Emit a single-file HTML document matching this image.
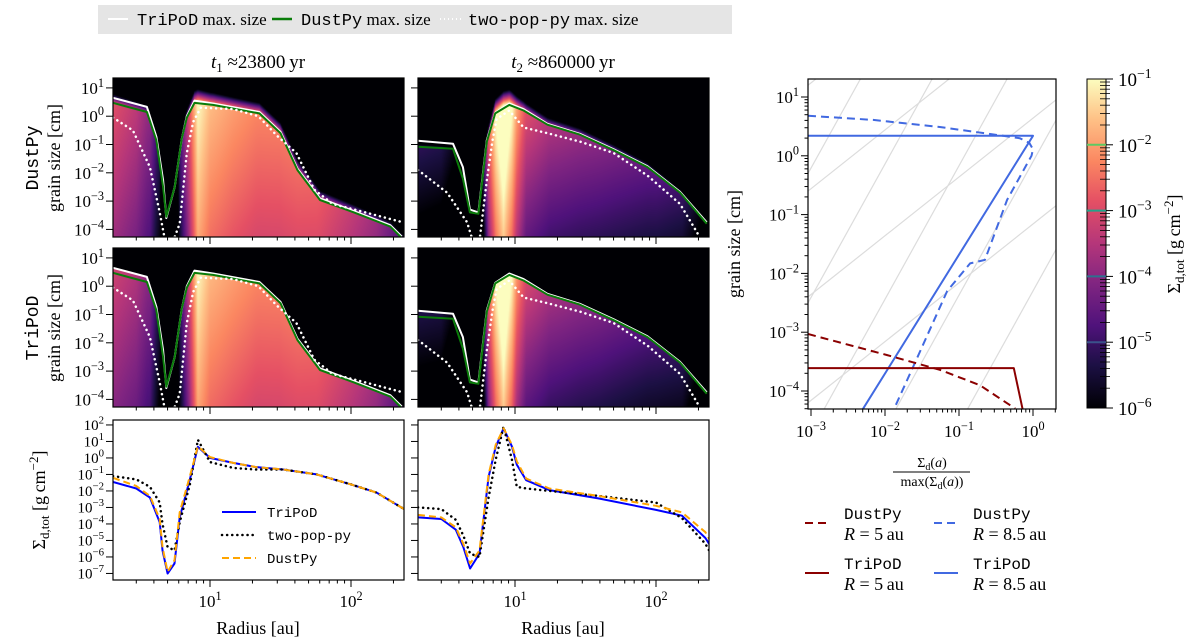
<!DOCTYPE html>
<html><head><meta charset="utf-8">
<style>
html,body{margin:0;padding:0;background:#fff;width:1200px;height:642px;overflow:hidden;}
#wrap{position:relative;width:1200px;height:642px;overflow:hidden;}
canvas{position:absolute;display:block;}
svg{position:absolute;left:0;top:0;display:block;overflow:hidden;}
</style></head>
<body>
<div id="wrap">
<canvas id="h11" width="291" height="159" style="left:113px;top:78px"></canvas>
<canvas id="h12" width="291" height="159" style="left:418px;top:78px"></canvas>
<canvas id="h21" width="291" height="159" style="left:113px;top:248px"></canvas>
<canvas id="h22" width="291" height="159" style="left:418px;top:248px"></canvas>
<svg id="svg" width="1200" height="642" xmlns="http://www.w3.org/2000/svg"></svg>
</div>
<script>
// ---------- data: bottom panels (log10 surface density) ----------
const r1 = [2.05,3,3.75,4.4,4.6,5.0,5.6,6.1,7.2,8.2,10,14.6,21,33,57,100,152,238];
const sigTriPoD1 = [-1.45,-1.85,-2.4,-3.9,-5.6,-7,-6.4,-3.6,-1.3,0.67,0,-0.3,-0.55,-0.7,-1.0,-1.6,-2.1,-3.1];
const sigDustPy1 = [-1.2,-1.7,-2.3,-3.7,-5.4,-6.9,-6.2,-3.3,-1.1,0.7,0.05,-0.3,-0.55,-0.7,-1.0,-1.6,-2.1,-3.1];
const sigTwoPop1 = [-1.1,-1.3,-1.75,-2.7,-4.0,-5.4,-5.6,-3.9,-1.6,1.1,-0.25,-0.6,-0.7,-0.7,-1.0,-1.6,-2.1,-3.1];
const r2 = [2.05,3.0,3.8,4.3,4.8,5.6,6.5,7.3,8.3,9.5,10.3,12,17.5,39,100,153,224,238];
const sigTriPoD2 = [-3.6,-3.7,-4.35,-5.4,-6.7,-5.8,-1.15,0.67,1.8,0.7,-0.4,-1.35,-1.95,-2.45,-3.15,-3.5,-4.85,-5.2];
const sigDustPy2 = [-3.45,-3.6,-4.2,-5.2,-6.4,-5.6,-1.0,0.8,1.8,0.8,-0.2,-1.25,-1.85,-2.3,-2.9,-3.3,-4.5,-4.9];
const sigTwoPop2 = [-3.0,-3.1,-3.75,-4.7,-5.8,-6.0,-2.4,-0.1,1.9,-0.1,-1.75,-1.85,-2.0,-2.3,-2.7,-3.65,-5.2,-5.6];
// ---------- data: max grain size curves (log10 cm) ----------
const rA1 = [2.05,3.57,4.17,4.65,4.9,5.62,6.31,6.84,7.76,10.5,22.4,31.6,41.7,60.3,105,190,229];
const amaxTriPoD1 = [0.65,0.33,-0.73,-2.26,-3.6,-2.5,-0.8,0.0,0.55,0.45,0.15,-0.55,-1.85,-2.9,-3.35,-3.85,-4.25];
const amaxDustPy1 = [0.47,0.15,-0.86,-2.5,-3.55,-2.5,-0.8,-0.05,0.47,0.4,0.1,-0.6,-1.9,-2.96,-3.4,-3.9,-4.3];
const rP1 = [2.05,2.84,3.75,4.4,4.8,5.3,6.1,6.85,7.6,8.6,14.6,22,30,41,55,74,126,233];
const amaxTwoPop1 = [-0.05,-0.5,-1.8,-3.4,-4.4,-4.6,-3.8,-1.3,-0.2,0.3,0.25,0.0,-0.7,-1.3,-2.6,-3.1,-3.4,-3.75];
const rA2 = [2.05,3.63,4.27,4.79,5.5,6.31,7.24,9.12,11.5,17,28.8,50.1,87,148,229];
const amaxTriPoD2 = [-0.87,-0.97,-1.8,-3.3,-3.4,-0.85,0.12,0.45,0.25,-0.27,-0.62,-1.17,-1.77,-2.67,-3.75];
const amaxDustPy2 = [-1.08,-1.15,-2.2,-3.4,-3.45,-0.9,0.1,0.4,0.2,-0.3,-0.65,-1.2,-1.8,-2.7,-3.8];
const rP2 = [2.05,3.3,4.57,4.95,5.6,6.3,6.9,7.4,9.1,11.5,17,29,50,87,148,195,220];
const amaxTwoPop2 = [-1.9,-2.7,-3.75,-4.3,-4.4,-2.3,-0.9,-0.1,0.2,-0.4,-0.6,-0.9,-1.3,-2.1,-3.1,-4.1,-4.6];
// ---------- data: right panel size distributions (log f, log a) ----------
const tri85F = [-3.04,0,-2.3];
const tri85A = [0.34,0.34,-4.31];
const dust85F = [-3.04,-2.16,-1.26,-0.58,-0.18,-0.05,0,-0.02,-0.35,-0.65,-0.85,-1.16,-1.62,-1.88];
const dust85A = [0.68,0.61,0.49,0.37,0.3,0.22,0.11,0.0,-0.75,-1.77,-1.83,-2.3,-3.59,-4.31];
const tri5F = [-3.04,-0.26,-0.14];
const tri5A = [-3.61,-3.61,-4.31];
const dust5F = [-3.04,-1.97,-1.26,-0.72,-0.24];
const dust5A = [-3.03,-3.39,-3.64,-3.9,-4.3];
const cbTicks = [-1,-2,-3,-4,-5,-6];
const contourLevels = [-2,-3,-4,-5];
const contourColors = ['#5ec962','#21a38a','#2c728e','#3b528b'];

// ---------- helpers ----------
const NS='http://www.w3.org/2000/svg';
const svg=document.getElementById('svg');
function el(tag,attrs,parent){const e=document.createElementNS(NS,tag);for(const k in attrs)e.setAttribute(k,attrs[k]);(parent||svg).appendChild(e);return e;}
const L10=Math.log10;
function interp(xs,ys,x){if(x<=xs[0])return ys[0];for(let i=1;i<xs.length;i++){if(x<=xs[i]){const t=(x-xs[i-1])/(xs[i]-xs[i-1]);return ys[i-1]+t*(ys[i]-ys[i-1]);}}return ys[ys.length-1];}
const SERIF='"Liberation Serif", "DejaVu Serif", serif';
const MONO='"Liberation Mono", "DejaVu Sans Mono", monospace';
function pow10(x,y,exp,anchor,fs,parent){
  const t=el('text',{x:x,y:y,'font-family':SERIF,'font-size':fs,'text-anchor':anchor,fill:'#000'},parent);
  t.appendChild(document.createTextNode('10'));
  const s=el('tspan',{dy:-fs*0.42,'font-size':fs*0.72},t);
  s.textContent=(exp<0?'\u2212'+(-exp):''+exp);
  return t;
}
const rx=(col,r)=>113+col*305+(L10(r)-0.312)*141;
const hy=(row,a)=>78+row*170+(1.35-a)*28.3;
const sy=(s)=>420+(2.3-s)*16.5;
const fx=(f)=>811+(f+3)*74;
const fy=(a)=>97+(1-a)*58.8;

const magma=[[0,0,0,4],[0.13,28,16,68],[0.25,79,18,123],[0.38,129,37,129],[0.5,181,54,122],[0.63,229,80,100],[0.75,251,135,97],[0.88,254,194,135],[1,252,253,191]];
function cmap(t){t=Math.max(0,Math.min(1,t));for(let i=1;i<magma.length;i++){if(t<=magma[i][0]){const a=magma[i-1],b=magma[i],u=(t-a[0])/(b[0]-a[0]);return [a[1]+u*(b[1]-a[1]),a[2]+u*(b[2]-a[2]),a[3]+u*(b[3]-a[3])];}}return magma[magma.length-1].slice(1);}

function heat(id,col,rs,sig,ra,amax,slope,fringe){
  const c=document.getElementById(id),ctx=c.getContext('2d');const im=ctx.createImageData(291,159);
  const lr=rs.map(L10),la=ra.map(L10);
  for(let x=0;x<291;x++){
    const lgr=0.312+(x+0.5)/141;
    const S=interp(lr,sig,lgr),A=interp(la,amax,lgr);
    for(let y=0;y<159;y++){
      const a=1.35-(y+0.5)/28.3;
      let v;
      if(a<=A){v=S-1.7-slope*(A-a);}
      else if(fringe){v=S-1.7-(a-A)*10;}
      else v=-9;
      const [R,G,B]=cmap((v+6)/5);
      const i=(y*291+x)*4;im.data[i]=R;im.data[i+1]=G;im.data[i+2]=B;im.data[i+3]=255;
    }
  }
  ctx.putImageData(im,0,0);
}
heat('h11',0,r1,sigDustPy1,rA1,amaxDustPy1,0.18,true);
heat('h12',1,r2,sigDustPy2,rA2,amaxDustPy2,0.35,true);
heat('h21',0,r1,sigTriPoD1,rA1,amaxTriPoD1,0.18,false);
heat('h22',1,r2,sigTriPoD2,rA2,amaxTriPoD2,0.35,false);

const defs=el('defs',{});
function clip(id,x,y,w,h){const cp=el('clipPath',{id:id},defs);el('rect',{x:x,y:y,width:w,height:h},cp);}
for(let row=0;row<2;row++)for(let col=0;col<2;col++)clip('c'+row+col,113+col*305,78+row*170,291,159);
clip('b0',113,420,291,160);clip('b1',418,420,291,160);clip('rp',808,79,248,330);

function poly(xs,ys,fxn,fyn,attrs,cp,name){
  const pts=xs.map((x,i)=>fxn(x).toFixed(1)+','+fyn(ys[i]).toFixed(1)).join(' ');
  const p=el('polyline',Object.assign({points:pts,fill:'none','stroke-linejoin':'round','clip-path':'url(#'+cp+')'},attrs));
  
  
  return p;
}

const sets=[[rA1,amaxTriPoD1,amaxDustPy1,rP1,amaxTwoPop1],[rA2,amaxTriPoD2,amaxDustPy2,rP2,amaxTwoPop2]];
for(let row=0;row<2;row++)for(let col=0;col<2;col++){
  const [ra,w,g,rp,p]=sets[col];const cp='c'+row+col;
  poly(ra,w,r=>rx(col,r),a=>hy(row,a),{stroke:'#fff','stroke-width':2},cp,'tripod-max-size-line');
  poly(ra,g,r=>rx(col,r),a=>hy(row,a),{stroke:'#0a7d0a','stroke-width':2},cp,'dustpy-max-size-line');
  poly(rp,p,r=>rx(col,r),a=>hy(row,a),{stroke:'#fff','stroke-width':2.5,'stroke-dasharray':'0.1 5','stroke-linecap':'round'},cp,'two-pop-max-size-line');
}

const bsets=[[r1,sigTriPoD1,sigTwoPop1,sigDustPy1],[r2,sigTriPoD2,sigTwoPop2,sigDustPy2]];
for(let col=0;col<2;col++){
  const [rr,t,p,d]=bsets[col];
  poly(rr,t,r=>rx(col,r),sy,{stroke:'#0000ff','stroke-width':2},'b'+col,'tripod-sigma-line');
  poly(rr,p,r=>rx(col,r),sy,{stroke:'#000','stroke-width':2.5,'stroke-dasharray':'0.1 5','stroke-linecap':'round'},'b'+col,'two-pop-sigma-line');
  poly(rr,d,r=>rx(col,r),sy,{stroke:'#ffa500','stroke-width':2,'stroke-dasharray':'7 4'},'b'+col,'dustpy-sigma-line');
}

function frame(x,y,w,h,name){const r=el('rect',{x:x,y:y,width:w,height:h,fill:'none',stroke:'#000','stroke-width':1.2});}
const minorR=[3,4,5,6,7,8,9,20,30,40,50,60,70,80,90,200];
for(let col=0;col<2;col++){
  for(let row=0;row<3;row++){
    const yb=row<2?237+row*170:580;
    for(const r of minorR){const x=rx(col,r);el('line',{x1:x,x2:x,y1:yb,y2:yb+3.5,stroke:'#000','stroke-width':1});}
    for(const r of [10,100]){const x=rx(col,r);el('line',{x1:x,x2:x,y1:yb,y2:yb+7,stroke:'#000','stroke-width':1});}
  }
  for(let row=0;row<2;row++){
    frame(113+col*305,78+row*170,291,159,'heatmap-frame');
    for(let e=1;e>=-4;e--){const y=hy(row,e);el('line',{x1:113+col*305-7,x2:113+col*305,y1:y,y2:y,stroke:'#000','stroke-width':1});
      if(col===0)pow10(104,y+6,e,'end',17);}
  }
  frame(113+col*305,420,291,160,'sigma-panel-frame');
  for(let e=2;e>=-7;e--){const y=sy(e);el('line',{x1:113+col*305-7,x2:113+col*305,y1:y,y2:y,stroke:'#000','stroke-width':1});
    if(col===0)pow10(104,y+5,e,'end',15);}
  pow10(rx(col,10),607,1,'middle',17);pow10(rx(col,100),607,2,'middle',17);
  const xl=el('text',{x:258+col*305,y:634,'font-family':SERIF,'font-size':18,'text-anchor':'middle'});xl.textContent='Radius [au]';
  
}
function title(x,sub,val,name){const t=el('text',{x:x,y:68,'font-family':SERIF,'font-size':19,'text-anchor':'middle'});
  const i=el('tspan',{'font-style':'italic'},t);i.textContent='t';
  const s=el('tspan',{'font-size':13,dy:4},t);s.textContent=sub;
  const v=el('tspan',{dy:-4},t);v.textContent=' \u2248'+val+'\u2009yr';
  }
title(258,'1','23800','title-t1');title(563,'2','860000','title-t2');

function rot(x,y,txt,fam,fs,name){const t=el('text',{x:x,y:y,'font-family':fam,'font-size':fs,'text-anchor':'middle',transform:'rotate(-90 '+x+' '+y+')'});t.textContent=txt;return t;}
rot(38,158,'DustPy',MONO,18,'row-label-dustpy');rot(60,158,'grain size [cm]',SERIF,18,'y-axis-title');
rot(38,328,'TriPoD',MONO,18,'row-label-tripod');rot(60,328,'grain size [cm]',SERIF,18,'y-axis-title');
function sigLabel(x,y,name){const t=el('text',{x:x,y:y,'font-family':SERIF,'font-size':18,'text-anchor':'middle',transform:'rotate(-90 '+x+' '+y+')'});
  t.appendChild(document.createTextNode('\u03A3'));const a=el('tspan',{'font-size':13,dy:4},t);a.textContent='d,tot';
  const b=el('tspan',{dy:-4},t);b.textContent=' [g\u2009cm';const c=el('tspan',{'font-size':13,dy:-7},t);c.textContent='\u22122';
  const d=el('tspan',{dy:7},t);d.textContent=']';}
sigLabel(45,500,'sigma-axis-title');

const lg=el('g',{});
el('rect',{x:98,y:5,width:634,height:29,fill:'#e5e5e5'},lg);
el('line',{x1:108,x2:128,y1:19,y2:19,stroke:'#fff','stroke-width':2},lg);
let t=el('text',{x:137,y:25,'font-family':SERIF,'font-size':17},lg);let ts=el('tspan',{'font-family':MONO},t);ts.textContent='TriPoD';t.appendChild(document.createTextNode(' max. size'));
el('line',{x1:272,x2:292,y1:19,y2:19,stroke:'#0a7d0a','stroke-width':2.5},lg);
t=el('text',{x:301,y:25,'font-family':SERIF,'font-size':17},lg);ts=el('tspan',{'font-family':MONO},t);ts.textContent='DustPy';t.appendChild(document.createTextNode(' max. size'));
el('line',{x1:440,x2:462,y1:19,y2:19,stroke:'#fff','stroke-width':2,'stroke-dasharray':'1 3'},lg);
t=el('text',{x:468,y:25,'font-family':SERIF,'font-size':17},lg);ts=el('tspan',{'font-family':MONO},t);ts.textContent='two-pop-py';t.appendChild(document.createTextNode(' max. size'));

const bl=el('g',{});
el('line',{x1:222,x2:256,y1:512,y2:512,stroke:'#0000ff','stroke-width':2},bl);
el('line',{x1:222,x2:256,y1:535,y2:535,stroke:'#000','stroke-width':2.5,'stroke-dasharray':'0.1 5','stroke-linecap':'round'},bl);
el('line',{x1:222,x2:256,y1:558,y2:558,stroke:'#ffa500','stroke-width':2,'stroke-dasharray':'7 4'},bl);
[['TriPoD',517],['two-pop-py',540],['DustPy',563]].forEach(([s,y])=>{const q=el('text',{x:267,y:y,'font-family':MONO,'font-size':14},bl);q.textContent=s;});

// ---------- right panel ----------
const guideSteep=[-0.3,-2.5,-4.8,-7.0,-9.2];
const guideShallow=[1.2,-0.6,-2.4,-4.2];
for(const b of guideSteep){el('line',{x1:fx(-3.04),y1:fy(b),x2:fx(0.31),y2:fy(b+3.35*2.27),stroke:'#dcdcdc','stroke-width':1.2,'clip-path':'url(#rp)'});}
for(const b of guideShallow){el('line',{x1:fx(-3.04),y1:fy(b),x2:fx(0.31),y2:fy(b+3.35*1.0),stroke:'#dcdcdc','stroke-width':1.2,'clip-path':'url(#rp)'});}
poly(tri85F,tri85A,fx,fy,{stroke:'#4169e1','stroke-width':2},'rp','tripod-8.5au-line');
poly(dust85F,dust85A,fx,fy,{stroke:'#4169e1','stroke-width':2,'stroke-dasharray':'8 5'},'rp','dustpy-8.5au-line');
poly(tri5F,tri5A,fx,fy,{stroke:'#8b0000','stroke-width':2},'rp','tripod-5au-line');
poly(dust5F,dust5A,fx,fy,{stroke:'#8b0000','stroke-width':2,'stroke-dasharray':'8 5'},'rp','dustpy-5au-line');
frame(808,79,248,330,'size-distribution-frame');
for(let e=-3;e<=0;e++){const x=fx(e);el('line',{x1:x,x2:x,y1:409,y2:416,stroke:'#000'});pow10(x,437,e,'middle',17);
  for(let m=2;m<10;m++){const xm=fx(e+L10(m));if(xm<1056)el('line',{x1:xm,x2:xm,y1:409,y2:412.5,stroke:'#000'});}}
for(let e=1;e>=-4;e--){const y=fy(e);el('line',{x1:801,x2:808,y1:y,y2:y,stroke:'#000'});pow10(799,y+6,e,'end',17);
  for(let m=2;m<10;m++){const ym=fy(e-1+L10(m));if(ym>79&&ym<409)el('line',{x1:804.5,x2:808,y1:ym,y2:ym,stroke:'#000'});}}
rot(740,244,'grain size [cm]',SERIF,18,'y-axis-title-right');
const fr=el('g',{});
let n=el('text',{x:932,y:467,'font-family':SERIF,'font-size':14,'text-anchor':'middle'},fr);n.appendChild(document.createTextNode('\u03A3'));let q=el('tspan',{'font-size':10,dy:3},n);q.textContent='d';q=el('tspan',{dy:-3},n);q.textContent='(';q=el('tspan',{'font-style':'italic'},n);q.textContent='a';n.appendChild(document.createTextNode(')'));
el('line',{x1:893,x2:970,y1:472,y2:472,stroke:'#000','stroke-width':1},fr);
n=el('text',{x:932,y:486,'font-family':SERIF,'font-size':14,'text-anchor':'middle'},fr);n.appendChild(document.createTextNode('max(\u03A3'));q=el('tspan',{'font-size':10,dy:3},n);q.textContent='d';q=el('tspan',{dy:-3},n);q.textContent='(';q=el('tspan',{'font-style':'italic'},n);q.textContent='a';n.appendChild(document.createTextNode('))'));
const rl=el('g',{});
[[805,523,'#8b0000','8 5','DustPy','5'],[934,523,'#4169e1','8 5','DustPy','8.5'],[805,573,'#8b0000','','TriPoD','5'],[934,573,'#4169e1','','TriPoD','8.5']].forEach(([x,y,c,d,nm,R])=>{
  const a={x1:x,x2:x+24,y1:y,y2:y,stroke:c,'stroke-width':2};if(d)a['stroke-dasharray']=d;el('line',a,rl);
  const t1=el('text',{x:x+39,y:y-4,'font-family':MONO,'font-size':16},rl);t1.textContent=nm;
  const t2=el('text',{x:x+39,y:y+17,'font-family':SERIF,'font-size':18},rl);const it=el('tspan',{'font-style':'italic'},t2);it.textContent='R';t2.appendChild(document.createTextNode(' = '+R+'\u2009au'));
});

// ---------- colorbar ----------
const grad=el('linearGradient',{id:'mg',x1:0,y1:1,x2:0,y2:0},defs);
magma.forEach(s=>el('stop',{offset:s[0],'stop-color':'rgb('+s[1]+','+s[2]+','+s[3]+')'},grad));
const cby=(v)=>79+(-1-v)/5*329;
const cb=el('rect',{x:1087,y:79,width:19,height:329,fill:'url(#mg)',stroke:'#000','stroke-width':1});

contourLevels.forEach((v,i)=>el('line',{x1:1087,x2:1106,y1:cby(v),y2:cby(v),stroke:contourColors[i],'stroke-width':2}));
cbTicks.forEach(v=>{const y=cby(v);el('line',{x1:1106,x2:1113,y1:y,y2:y,stroke:'#000'});pow10(1118,y+7,v,'start',19);
  for(let m=2;m<10;m++){const ym=cby(v-1+L10(m));if(ym<408)el('line',{x1:1100,x2:1110,y1:ym,y2:ym,stroke:'#000','stroke-width':0.8});}});
sigLabel(1180,244,'colorbar-title');
</script>
</body></html>
